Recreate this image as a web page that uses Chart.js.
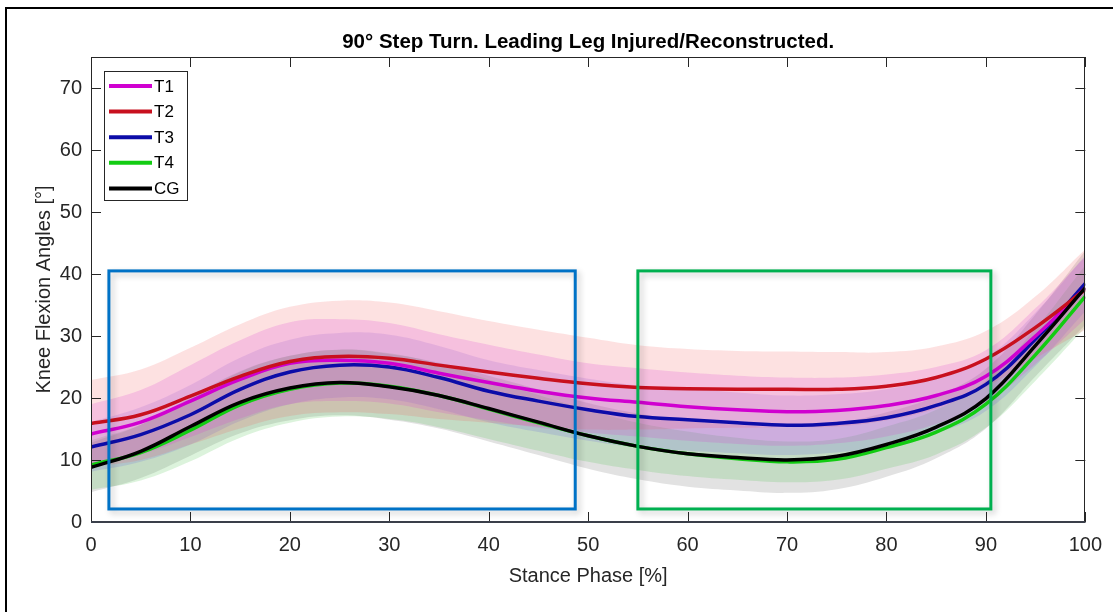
<!DOCTYPE html>
<html>
<head>
<meta charset="utf-8">
<script src="https://cdn.jsdelivr.net/npm/chart.js@4.4.1/dist/chart.umd.min.js"></script>
<style>
  html, body { margin: 0; padding: 0; background: #fff; overflow: hidden; }
  canvas { display: block; }
</style>
</head>
<body>
<canvas id="c" width="1113" height="612"></canvas>
<script>
// Stance phase sample points [%]
const phase = [0, 5, 10, 15, 20, 25, 30, 35, 40, 45, 50, 55, 60, 65, 70, 75, 80, 85, 90, 95, 100];

// Mean knee flexion angles [deg] per group
const t1Mean = [14.2, 16.1, 19.5, 23.0, 25.6, 26.1, 25.6, 24.0, 22.5, 21.1, 20.0, 19.3, 18.6, 18.1, 17.8, 18.0, 18.8, 20.4, 23.5, 30.0, 37.8];
const t2Mean = [15.9, 17.3, 20.3, 23.5, 25.9, 26.7, 26.4, 25.3, 24.2, 23.2, 22.3, 21.7, 21.5, 21.4, 21.4, 21.4, 21.9, 23.3, 26.3, 31.4, 37.5];
const t3Mean = [12.1, 14.1, 17.3, 21.4, 24.2, 25.3, 25.0, 23.3, 21.1, 19.5, 18.1, 17.0, 16.5, 16.0, 15.6, 15.9, 16.8, 18.8, 22.2, 29.5, 38.5];
const t4Mean = [9.2, 11.2, 14.8, 18.9, 21.4, 22.4, 21.9, 20.4, 18.2, 16.0, 13.9, 12.2, 11.0, 10.2, 9.7, 10.1, 12.0, 14.5, 19.0, 27.0, 36.4];
const cgMean = [8.8, 11.4, 15.4, 19.3, 21.6, 22.5, 21.8, 20.4, 18.3, 16.1, 13.9, 12.2, 11.0, 10.4, 10.0, 10.6, 12.5, 15.3, 19.9, 28.5, 37.8];

// Standard deviations [deg] per group
const t1Sd = [4.8, 5.2, 5.8, 6.3, 6.6, 6.6, 6.5, 6.3, 6.1, 5.9, 5.6, 5.5, 5.5, 5.5, 5.5, 5.3, 5.0, 4.6, 4.2, 4.5, 5.0];
const t2Sd = [7.0, 7.3, 7.8, 8.4, 8.8, 9.0, 9.0, 8.7, 8.2, 7.8, 7.4, 6.8, 6.4, 6.2, 6.1, 6.0, 5.5, 5.0, 4.5, 5.0, 6.5];
const t3Sd = [4.0, 4.4, 4.8, 5.1, 5.2, 5.2, 5.2, 5.1, 5.0, 5.0, 5.0, 5.0, 5.0, 4.9, 4.8, 4.7, 4.6, 4.5, 4.3, 4.3, 4.5];
const t4Sd = [4.0, 4.5, 5.0, 5.3, 5.4, 5.4, 5.3, 5.1, 4.8, 4.5, 4.2, 3.8, 3.6, 3.4, 3.3, 3.3, 3.4, 3.6, 3.8, 4.2, 5.0];
const cgSd = [4.0, 4.3, 4.7, 5.0, 5.2, 5.3, 5.3, 5.3, 5.3, 5.3, 5.3, 5.3, 5.3, 5.3, 5.3, 5.3, 5.2, 5.0, 4.8, 5.0, 6.0];

const seriesNames = ['T1', 'T2', 'T3', 'T4', 'CG'];

// Highlighted phase windows: [start, end] in % stance, and angle range [low, high]
const windowPhase = [[1.8, 48.7], [55.0, 90.5]];
const windowAngle = [2.1, 40.5];

// Axis tick values
const xTicks = [0, 10, 20, 30, 40, 50, 60, 70, 80, 90, 100];
const yTicks = [0, 10, 20, 30, 40, 50, 60, 70];

// ---- styling ----
const FONT = "'Liberation Sans', Arial, Helvetica, sans-serif";
const AXIS_COLOR = '#262626';
const lineColors = ['#d000d0', '#c8101e', '#0c0ca8', '#12cc12', '#000000'];
const bandColors = [
  'rgba(220, 60, 210, 0.20)',
  'rgba(245, 90, 90, 0.18)',
  'rgba(80, 80, 230, 0.16)',
  'rgba(60, 190, 60, 0.18)',
  'rgba(110, 110, 110, 0.20)'
];
const lineOrder = [3, 2, 4, 1, 0];
const windowColors = ['#0072c6', '#00b050'];

const means = [t1Mean, t2Mean, t3Mean, t4Mean, cgMean];
const sds = [t1Sd, t2Sd, t3Sd, t4Sd, cgSd];

const curve = { pointRadius: 0, tension: 0.4 };

const datasets = [];
// shaded mean +/- SD bands
seriesNames.forEach((name, k) => {
  const m = means[k], s = sds[k];
  datasets.push(Object.assign({
    label: name + ' upper',
    data: phase.map((x, i) => ({ x: x, y: m[i] + s[i] })),
    borderColor: 'rgba(0,0,0,0)', borderWidth: 0,
    fill: false, order: 20 + k
  }, curve));
  datasets.push(Object.assign({
    label: name + ' lower',
    data: phase.map((x, i) => ({ x: x, y: m[i] - s[i] })),
    borderColor: 'rgba(0,0,0,0)', borderWidth: 0,
    fill: '-1', backgroundColor: bandColors[k], order: 20 + k
  }, curve));
});
// mean curves
seriesNames.forEach((name, k) => {
  datasets.push(Object.assign({
    label: name,
    data: phase.map((x, i) => ({ x: x, y: means[k][i] })),
    borderColor: lineColors[k], borderWidth: 3.5,
    fill: false, order: lineOrder[k]
  }, curve));
});

// Frame, axes box with inward ticks, phase windows and legend
const decorations = {
  id: 'decorations',
  beforeDraw(chart) {
    const ctx = chart.ctx;
    ctx.save();
    ctx.fillStyle = '#ffffff';
    ctx.fillRect(0, 0, chart.width, chart.height);
    // outer figure frame
    ctx.strokeStyle = '#000';
    ctx.lineWidth = 2;
    ctx.beginPath();
    ctx.moveTo(6, chart.height);
    ctx.lineTo(6, 8);
    ctx.lineTo(chart.width, 8);
    ctx.stroke();
    ctx.restore();
  },
  afterDatasetsDraw(chart) {
    const ctx = chart.ctx;
    const xs = chart.scales.x, ys = chart.scales.y;
    const a = chart.chartArea;

    // phase windows
    windowPhase.forEach((w, i) => {
      const x0 = xs.getPixelForValue(w[0]);
      const x1 = xs.getPixelForValue(w[1]);
      const y0 = ys.getPixelForValue(windowAngle[1]);
      const y1 = ys.getPixelForValue(windowAngle[0]);
      ctx.save();
      ctx.shadowColor = 'rgba(0,0,0,0.22)';
      ctx.shadowBlur = 6;
      ctx.shadowOffsetX = 3;
      ctx.shadowOffsetY = 3;
      ctx.strokeStyle = windowColors[i];
      ctx.lineWidth = 3;
      ctx.strokeRect(x0, y0, x1 - x0, y1 - y0);
      ctx.restore();
    });

    // axes box
    ctx.save();
    ctx.strokeStyle = AXIS_COLOR;
    ctx.lineWidth = 1;
    ctx.strokeRect(Math.round(a.left) + 0.5, Math.round(a.top) + 0.5,
                   Math.round(a.right - a.left) - 1, Math.round(a.bottom - a.top));
    ctx.beginPath();
    const tl = 10;
    xTicks.forEach(v => {
      const px = Math.round(xs.getPixelForValue(v)) + 0.5;
      ctx.moveTo(px, a.bottom); ctx.lineTo(px, a.bottom - tl);
      ctx.moveTo(px, a.top); ctx.lineTo(px, a.top + tl);
    });
    yTicks.forEach(v => {
      const py = Math.round(ys.getPixelForValue(v)) + 0.5;
      ctx.moveTo(a.left, py); ctx.lineTo(a.left + tl, py);
      ctx.moveTo(a.right, py); ctx.lineTo(a.right - tl, py);
    });
    ctx.stroke();
    // heavier bottom axis line
    ctx.lineWidth = 2;
    ctx.strokeStyle = '#3a3f4a';
    ctx.beginPath();
    ctx.moveTo(a.left, Math.round(a.bottom));
    ctx.lineTo(a.right, Math.round(a.bottom));
    ctx.stroke();
    ctx.restore();

    // legend
    ctx.save();
    const lx = a.left + 13, ly = a.top + 14;
    const lw = 83, rowH = 25.6, lh = 129;
    ctx.fillStyle = '#fff';
    ctx.fillRect(lx, ly, lw, lh);
    ctx.strokeStyle = AXIS_COLOR;
    ctx.lineWidth = 1;
    ctx.strokeRect(Math.round(lx) + 0.5, Math.round(ly) + 0.5, lw, lh);
    ctx.font = '17px ' + FONT;
    ctx.textBaseline = 'middle';
    ctx.textAlign = 'left';
    seriesNames.forEach((name, k) => {
      const cy = ly + 15 + k * rowH;
      ctx.strokeStyle = lineColors[k];
      ctx.lineWidth = 4;
      ctx.beginPath();
      ctx.moveTo(lx + 5, cy);
      ctx.lineTo(lx + 48, cy);
      ctx.stroke();
      ctx.fillStyle = '#000';
      ctx.fillText(name, lx + 50, cy + 1);
    });
    ctx.restore();
  }
};

new Chart(document.getElementById('c'), {
  type: 'line',
  data: { datasets: datasets },
  options: {
    responsive: false,
    animation: false,
    devicePixelRatio: 1,
    layout: { padding: { left: 0, right: 27, top: 0, bottom: 0 } },
    plugins: {
      legend: { display: false },
      tooltip: { enabled: false },
      title: {
        display: true,
        text: '90° Step Turn. Leading Leg Injured/Reconstructed.',
        fullSize: false,
        color: '#000',
        font: { family: FONT, size: 20.5, weight: 'bold', lineHeight: 1.2 },
        padding: { top: 30, bottom: 2.4 }
      }
    },
    scales: {
      x: {
        type: 'linear', min: 0, max: 100,
        grid: { display: false, drawTicks: false },
        border: { display: false },
        ticks: {
          stepSize: 10, padding: 11, color: AXIS_COLOR, maxRotation: 0,
          font: { family: FONT, size: 20 }
        },
        title: {
          display: true, text: 'Stance Phase [%]', color: AXIS_COLOR,
          font: { family: FONT, size: 20, lineHeight: 1.2 },
          padding: { top: 0, bottom: 24 }
        },
        afterFit(s) { s.height = 90; }
      },
      y: {
        type: 'linear', min: 0, max: 75,
        grid: { display: false, drawTicks: false },
        border: { display: false },
        ticks: {
          stepSize: 10, padding: 9, color: AXIS_COLOR,
          font: { family: FONT, size: 20 },
          callback: (v) => (yTicks.includes(v) ? v : '')
        },
        title: {
          display: true, text: 'Knee Flexion Angles [°]', color: AXIS_COLOR,
          font: { family: FONT, size: 20, lineHeight: 1.2 },
          padding: { top: 32, bottom: 0 }
        },
        afterFit(s) { s.width = 91; }
      }
    }
  },
  plugins: [decorations]
});
</script>
</body>
</html>
